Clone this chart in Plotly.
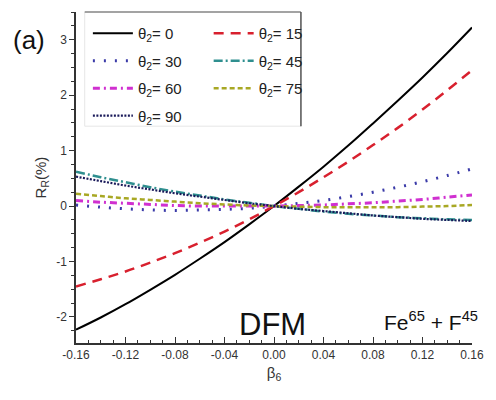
import plotly.graph_objects as go

# beta_6 sample points
beta6 = [-0.16, -0.14, -0.12, -0.10, -0.08, -0.06, -0.04, -0.02, 0.0,
         0.02, 0.04, 0.06, 0.08, 0.10, 0.12, 0.14, 0.16]

# R_R (%) for each theta_2
r_theta0 = [-2.23, -2.01, -1.77, -1.51, -1.24, -0.95, -0.65, -0.33, 0.0,
            0.35, 0.71, 1.09, 1.49, 1.90, 2.32, 2.76, 3.22]
r_theta15 = [-1.45, -1.32, -1.18, -1.02, -0.85, -0.66, -0.46, -0.24, 0.0,
             0.25, 0.52, 0.80, 1.10, 1.41, 1.74, 2.09, 2.45]
r_theta30 = [0.02, -0.02, -0.05, -0.07, -0.08, -0.07, -0.06, -0.04, 0.0,
             0.05, 0.10, 0.17, 0.25, 0.34, 0.44, 0.55, 0.67]
r_theta45 = [0.62, 0.52, 0.43, 0.34, 0.26, 0.19, 0.12, 0.06, 0.0,
             -0.05, -0.10, -0.14, -0.17, -0.20, -0.22, -0.24, -0.25]
r_theta60 = [0.10, 0.07, 0.05, 0.03, 0.01, 0.00, 0.00, 0.00, 0.0,
             0.01, 0.02, 0.04, 0.06, 0.09, 0.12, 0.16, 0.20]
r_theta75 = [0.22, 0.18, 0.14, 0.11, 0.08, 0.05, 0.03, 0.01, 0.0,
             -0.01, -0.02, -0.02, -0.02, -0.02, -0.01, 0.00, 0.02]
r_theta90 = [0.53, 0.45, 0.37, 0.30, 0.23, 0.17, 0.11, 0.05, 0.0,
             -0.05, -0.09, -0.13, -0.17, -0.20, -0.23, -0.25, -0.27]

x_ticks = [-0.16, -0.12, -0.08, -0.04, 0.0, 0.04, 0.08, 0.12, 0.16]
x_ticklabels = ["-0.16", "-0.12", "-0.08", "-0.04", "0.00", "0.04", "0.08", "0.12", "0.16"]
y_ticks = [-2, -1, 0, 1, 2, 3]
y_ticklabels = ["-2", "-1", "0", "1", "2", "3"]

FONT = "Liberation Sans, Arial, sans-serif"

series = [
    ("θ<sub>2</sub>= 0", r_theta0, "#000000", "solid", 2.0, "legend"),
    ("θ<sub>2</sub>= 15", r_theta15, "#d8202e", "10px,7px", 2.5, "legend2"),
    ("θ<sub>2</sub>= 30", r_theta30, "#3a3aa8", "2px,9px", 3.0, "legend"),
    ("θ<sub>2</sub>= 45", r_theta45, "#2f8f8f", "9px,3px,2px,3px", 2.5, "legend2"),
    ("θ<sub>2</sub>= 60", r_theta60, "#d030d0", "7px,4px,2px,4px", 3.0, "legend"),
    ("θ<sub>2</sub>= 75", r_theta75, "#a8a824", "5px,3px", 2.5, "legend2"),
    ("θ<sub>2</sub>= 90", r_theta90, "#1a1a5a", "2px,1.5px", 2.2, "legend"),
]

fig = go.Figure()
for name, vals, color, dash, width, leg in series:
    fig.add_trace(go.Scatter(
        x=beta6, y=vals, mode="lines", name=name,
        line=dict(color=color, dash=dash, width=width, shape="spline"),
        legend=leg, legendgroup=name,
    ))

legend_common = dict(
    bgcolor="rgba(0,0,0,0)", borderwidth=0,
    font=dict(family=FONT, size=15, color="#222"),
    itemwidth=40, tracegroupgap=5, yanchor="top",
)

fig.update_layout(
    width=496, height=400,
    margin=dict(l=76, r=13, t=12, b=57),
    paper_bgcolor="white", plot_bgcolor="white",
    font=dict(family=FONT, size=12, color="#333"),
    legend=dict(x=0.03, y=0.985, xanchor="left", **legend_common),
    legend2=dict(x=0.335, y=0.985, xanchor="left", **legend_common),
    xaxis=dict(
        range=[-0.16, 0.16], tickvals=x_ticks, ticktext=x_ticklabels,
        showline=True, linecolor="#333", linewidth=1.5, mirror=False,
        ticks="inside", ticklen=6, tickcolor="#333", showgrid=False, zeroline=False,
        minor=dict(dtick=0.01, ticks="inside", ticklen=3, tickcolor="#333"),
        tickfont=dict(size=12, color="#333"),
        title=dict(text="β<sub>6</sub>", font=dict(size=15, color="#333"), standoff=6),
    ),
    yaxis=dict(
        range=[-2.47, 3.5], tickvals=y_ticks, ticktext=y_ticklabels,
        showline=True, linecolor="#333", linewidth=1.5, mirror=False,
        ticks="outside", ticklen=5, tickcolor="#333", showgrid=False, zeroline=False,
        minor=dict(dtick=0.25, ticks="outside", ticklen=3, tickcolor="#333"),
        tickfont=dict(size=12, color="#333"),
        title=dict(text="R<sub>R</sub>(%)", font=dict(size=15, color="#333"), standoff=6),
    ),
    shapes=[
        # legend frame: faint left/bottom, darker top/right
        dict(type="rect", xref="paper", yref="paper", x0=0.022, x1=0.568, y0=0.655, y1=1.0,
             line=dict(color="#e6e6e6", width=1), fillcolor="rgba(0,0,0,0)"),
        dict(type="line", xref="paper", yref="paper", x0=0.022, x1=0.568, y0=1.0, y1=1.0,
             line=dict(color="#555", width=1.2)),
        dict(type="line", xref="paper", yref="paper", x0=0.568, x1=0.568, y0=0.655, y1=1.0,
             line=dict(color="#555", width=1.5)),
    ],
    annotations=[
        dict(text="(a)", xref="paper", yref="paper", x=-0.165, y=0.915,
             xanchor="left", yanchor="middle", showarrow=False,
             font=dict(family=FONT, size=26, color="#111")),
        dict(text="DFM", xref="paper", yref="paper", x=0.495, y=0.057,
             xanchor="center", yanchor="middle", showarrow=False,
             font=dict(family=FONT, size=31, color="#111")),
        dict(text="Fe<sup>65</sup> + F<sup>45</sup>", xref="paper", yref="paper",
             x=1.02, y=0.02, xanchor="right", yanchor="bottom", showarrow=False,
             font=dict(family=FONT, size=21, color="#111")),
    ],
)

fig.write_html("out.html")
